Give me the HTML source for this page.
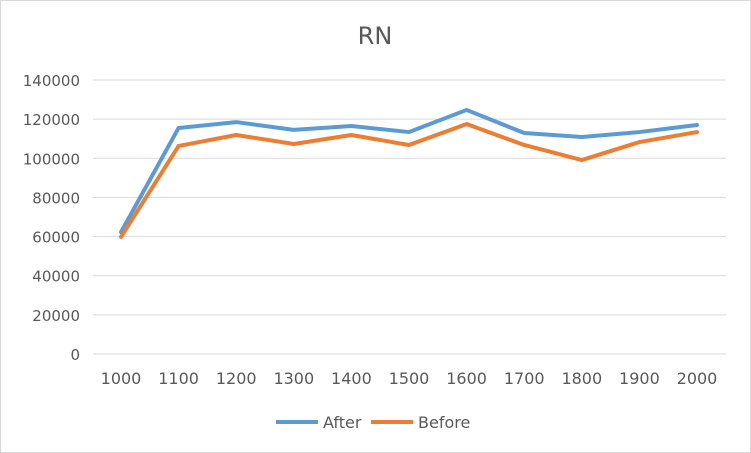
<!DOCTYPE html>
<html><head><meta charset="utf-8"><style>
body{margin:0;background:#fff}
svg{display:block;font-family:"DejaVu Sans","Liberation Sans",sans-serif}
</style></head><body>
<svg id="c" width="751" height="453">
<rect x="0.5" y="0.5" width="750" height="452" fill="#fff" stroke="#d9d9d9"/>
<text x="375" y="44" text-anchor="middle" font-size="24" fill="#595959">RN</text>
<g id="grid"></g><g id="series"></g>
<g>
<line x1="276" y1="422" x2="318" y2="422" stroke="#5b9bd5" stroke-width="4"/>
<text x="323" y="428" font-size="16" fill="#595959">After</text>
<line x1="371" y1="422" x2="413" y2="422" stroke="#ed7d31" stroke-width="4"/>
<text x="418" y="428" font-size="16" fill="#595959">Before</text>
</g>
</svg>
<script>
const categories=[1000,1100,1200,1300,1400,1500,1600,1700,1800,1900,2000];
const afterValues=[62300,115500,118500,114500,116500,113400,124700,112900,110900,113400,117000];
const beforeValues=[59800,106300,111900,107300,111900,106800,117500,106800,99100,108300,113400];
const yTicks=[0,20000,40000,60000,80000,100000,120000,140000];
const NS="http://www.w3.org/2000/svg";
const x0=121,dx=57.6,yb=354,yt=80;
const xs=i=>x0+i*dx;
const ys=v=>yb-(v/140000)*(yb-yt);
const grid=document.getElementById('grid'),ser=document.getElementById('series');
function mk(t,a,p){const e=document.createElementNS(NS,t);for(const k in a)e.setAttribute(k,a[k]);p.appendChild(e);return e;}
yTicks.forEach(v=>{
 const l=mk('line',{x1:93,x2:726,y1:ys(v),y2:ys(v),stroke:'#d9d9d9','stroke-width':1},grid);
 
 
 const t=mk('text',{x:80,y:ys(v)+6,'text-anchor':'end','font-size':15,fill:'#595959'},grid);
 t.textContent=v;
 
 
});
categories.forEach((c,i)=>{
 const t=mk('text',{x:xs(i),y:384,'text-anchor':'middle','font-size':16,fill:'#595959'},grid);
 t.textContent=c;
 
 
});
[[afterValues,'#5b9bd5','after-line'],[beforeValues,'#ed7d31','before-line']].forEach(([vals,col,name])=>{
 const p=mk('polyline',{points:vals.map((v,i)=>xs(i)+','+ys(v)).join(' '),fill:'none',stroke:col,'stroke-width':4,'stroke-linejoin':'round','stroke-linecap':'round'},ser);
 
 
});
</script>
</body></html>
